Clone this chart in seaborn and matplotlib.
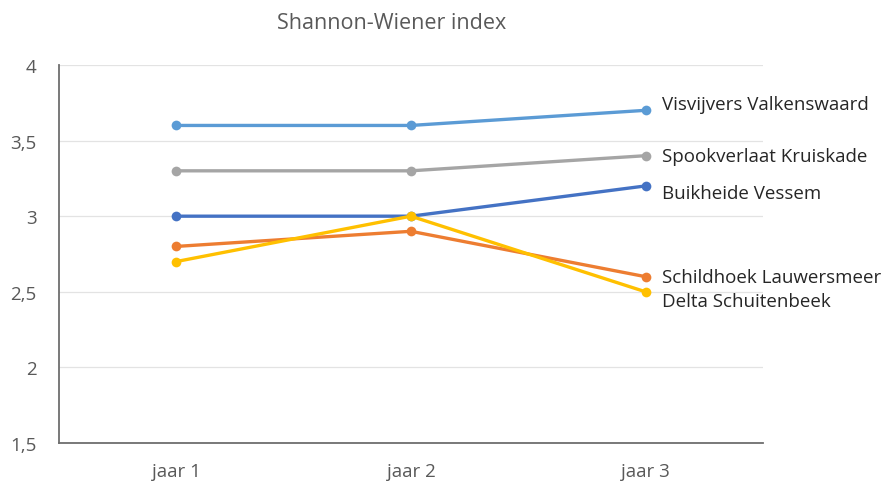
import pandas as pd
import matplotlib
matplotlib.use("Agg")
import matplotlib.pyplot as plt
import seaborn as sns

# --- data ---
years = ["jaar 1", "jaar 2", "jaar 3"]
sites = ["Visvijvers Valkenswaard", "Spookverlaat Kruiskade", "Buikheide Vessem",
         "Schildhoek Lauwersmeer", "Delta Schuitenbeek"]
visvijvers = [3.6, 3.6, 3.7]
spookverlaat = [3.3, 3.3, 3.4]
buikheide = [3.0, 3.0, 3.2]
schildhoek = [2.8, 2.9, 2.6]
delta = [2.7, 3.0, 2.5]
yticks = [1.5, 2, 2.5, 3, 3.5, 4]

colors = ["#5B9BD5", "#A5A5A5", "#4472C4", "#ED7D31", "#FFC000"]
# small vertical nudges for the end labels so they don't collide
label_nudge = [0.04, 0.0, -0.05, 0.0, -0.06]

rows = []
for site, vals in zip(sites, [visvijvers, spookverlaat, buikheide, schildhoek, delta]):
    for yr, v in zip(years, vals):
        rows.append({"jaar": yr, "index": v, "site": site})
df = pd.DataFrame(rows)

sns.set_theme(style="white")
plt.rcParams["font.family"] = ["Open Sans", "DejaVu Sans"]
txt = "#595959"

fig = plt.figure(figsize=(8.87, 4.85), dpi=100)
ax = fig.add_axes([0.0665, 0.0845, 0.7935, 0.7795])

sns.lineplot(data=df, x="jaar", y="index", hue="site", hue_order=sites,
             palette=colors, marker="o", markersize=7, markeredgewidth=0,
             linewidth=2.4, legend=False, ax=ax, sort=False)

ax.set_xlim(-0.5, 2.5)
ax.set_ylim(1.5, 4)
ax.set_yticks(yticks)
ax.set_yticklabels([f"{t:g}".replace(".", ",") for t in yticks])
ax.yaxis.grid(True, color="#E3E3E3", linewidth=0.9)
ax.set_axisbelow(True)
ax.set_xlabel("")
ax.set_ylabel("")
ax.tick_params(axis="both", length=0, labelsize=13.5, colors=txt)
ax.tick_params(axis="y", pad=16)
ax.tick_params(axis="x", pad=14)

for s in ["top", "right"]:
    ax.spines[s].set_visible(False)
for s in ["left", "bottom"]:
    ax.spines[s].set_color("#6E6E6E")
    ax.spines[s].set_linewidth(1.3)

last = df[df["jaar"] == years[-1]].set_index("site")
for site, nudge in zip(sites, label_nudge):
    ax.text(2.07, last.loc[site, "index"] + nudge, site, fontsize=13.5,
            color="#262626", va="center", ha="left", clip_on=False)

fig.text(0.441, 0.952, "Shannon-Wiener index", fontsize=15.5, color=txt, ha="center", va="center")

fig.savefig("out.png", dpi=100)
